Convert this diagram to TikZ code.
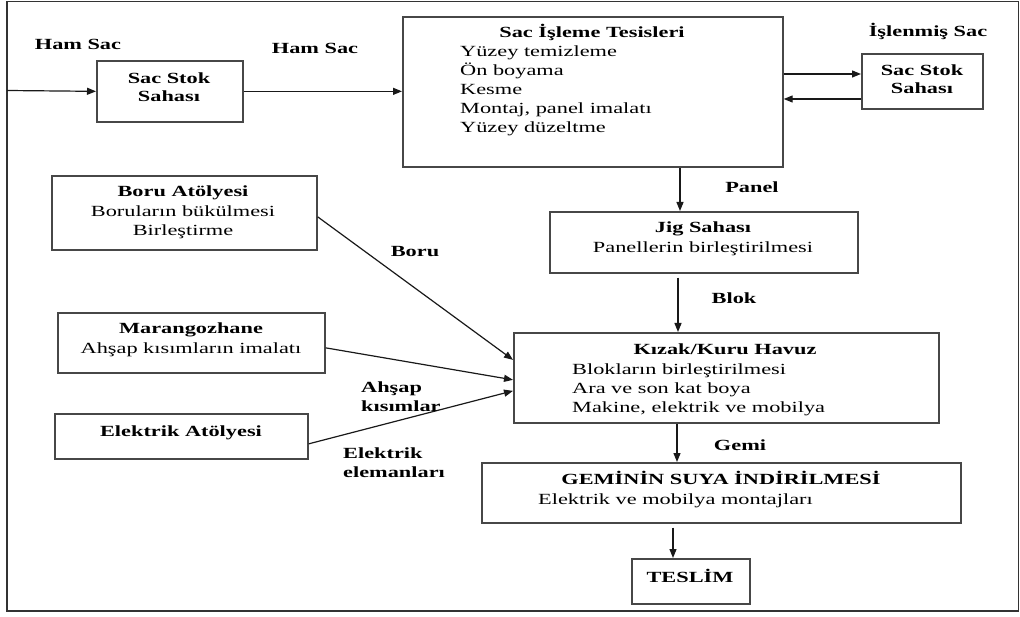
\documentclass[tikz,border=0pt]{standalone}
\usepackage{fontspec}
\setmainfont{Liberation Serif}[FakeStretch=1.44]
\usetikzlibrary{arrows.meta,calc}
\newcommand\fsz{\fontsize{15.5}{19}\selectfont}
\begin{document}
\begin{tikzpicture}[x=1pt,y=-1pt,
  box/.style={draw=black!72, line width=1.7pt, inner sep=0pt, anchor=north west, fill=white},
  txt/.style={inner sep=0pt, anchor=base, text=black, font=\fsz},
  txtl/.style={txt, anchor=base west},
  bt/.style={txt, font=\fsz\bfseries},
  btl/.style={bt, anchor=base west},
  arr/.style={-{Triangle[length=9pt,width=7pt]}, line width=1.2pt, draw=black!90},
]
\useasboundingbox (0,0) rectangle (1020,617);
\draw[line width=1.7pt, black!80] (7,1.5) rectangle (1018.5,611);

% boxes
\node[box, minimum width=146pt, minimum height=61pt] (ss1) at (96,60) {};
\node[box, minimum width=380pt, minimum height=150pt] (sit) at (402,16) {};
\node[box, minimum width=121pt, minimum height=55pt] (ss2) at (861,53) {};
\node[box, minimum width=308pt, minimum height=61pt] (jig) at (549,211) {};
\node[box, minimum width=265pt, minimum height=74pt] (boru) at (51,175) {};
\node[box, minimum width=267pt, minimum height=60pt] (mar) at (57,312) {};
\node[box, minimum width=253pt, minimum height=45pt] (ele) at (54,413) {};
\node[box, minimum width=425pt, minimum height=90pt] (kiz) at (513,332) {};
\node[box, minimum width=479pt, minimum height=60pt] (gem) at (481,462) {};
\node[box, minimum width=118pt, minimum height=45pt] (tes) at (631,558) {};

% helper coordinates
\coordinate (in) at (7,90.5);
\coordinate (ya) at (0,74);
\coordinate (yb) at (0,99);
\coordinate (xp) at (680,0);
\coordinate (xb) at (678,0);
\coordinate (xg) at (677,0);
\coordinate (xt) at (673,0);

% connectors
\draw[arr] (in) -- (ss1.west);
\draw[arr] (ss1.east) -- (sit.west |- ss1.east);
\draw[arr] (sit.east |- ya) -- (ss2.west |- ya);
\draw[arr] (ss2.west |- yb) -- (sit.east |- yb);
\draw[arr] (sit.south -| xp) -- (jig.north -| xp);
\draw[arr] ($(jig.south -| xb)+(0,4)$) -- (kiz.north -| xb);
\draw[arr] (kiz.south -| xg) -- (gem.north -| xg);
\draw[arr] ($(gem.south -| xt)+(0,4)$) -- (tes.north -| xt);
\draw[arr] ($(boru.east)+(0,4)$) -- ($(kiz.west)+(0,-18)$);
\draw[arr] ($(mar.east)+(0,5)$) -- ($(kiz.west)+(0,2)$);
\draw[arr] ($(ele.east)+(0,7.5)$) -- ($(kiz.west)+(0,13)$);

% texts
\node[bt] (lh1) at (78,50) {Ham Sac};
\node[bt] (lh2) at (315,54) {Ham Sac};
\node[bt] (s1a) at (169,84) {Sac Stok};
\node[bt] (s1b) at (169,102) {Sahası};
\node[bt] (sitt) at (592,38) {Sac İşleme Tesisleri};
\node[txtl] (sit1) at (460,57) {Yüzey temizleme};
\node[txtl] (sit2) at (460,76) {Ön boyama};
\node[txtl] (sit3) at (460,95) {Kesme};
\node[txtl] (sit4) at (460,114) {Montaj, panel imalatı};
\node[txtl] (sit5) at (460,133) {Yüzey düzeltme};
\node[bt] (lis) at (928,37) {İşlenmiş Sac};
\node[bt] (s2a) at (922,76) {Sac Stok};
\node[bt] (s2b) at (922,94) {Sahası};
\node[bt] (lpan) at (752,193) {Panel};
\node[bt] (jigt) at (703,233) {Jig Sahası};
\node[txt] (jig1) at (703,253) {Panellerin birleştirilmesi};
\node[bt] (lblok) at (734,304) {Blok};
\node[bt] (kizt) at (725,355) {Kızak/Kuru Havuz};
\node[txtl] (kiz1) at (572,375) {Blokların birleştirilmesi};
\node[txtl] (kiz2) at (572,394) {Ara ve son kat boya};
\node[txtl] (kiz3) at (572,413) {Makine, elektrik ve mobilya};
\node[bt] (lgemi) at (740,450) {Gemi};
\node[bt] (gemt) at (721,484) {GEMİNİN SUYA İNDİRİLMESİ};
\node[txtl] (gem1) at (538,504) {Elektrik ve mobilya montajları};
\node[bt] (test) at (690,582) {TESLİM};
\node[bt] (borut) at (183,197) {Boru Atölyesi};
\node[txt] (boru1) at (183,217) {Boruların bükülmesi};
\node[txt] (boru2) at (183,236) {Birleştirme};
\node[bt] (mart) at (191,334) {Marangozhane};
\node[txt] (mar1) at (191,354) {Ahşap kısımların imalatı};
\node[bt] (elet) at (181,436) {Elektrik Atölyesi};
\node[bt] (lboru) at (415,257) {Boru};
\node[btl] (lah1) at (361,393) {Ahşap};
\node[btl] (lah2) at (361,412) {kısımlar};
\node[btl] (lel1) at (343,458) {Elektrik};
\node[btl] (lel2) at (343,477) {elemanları};
\end{tikzpicture}
\end{document}
